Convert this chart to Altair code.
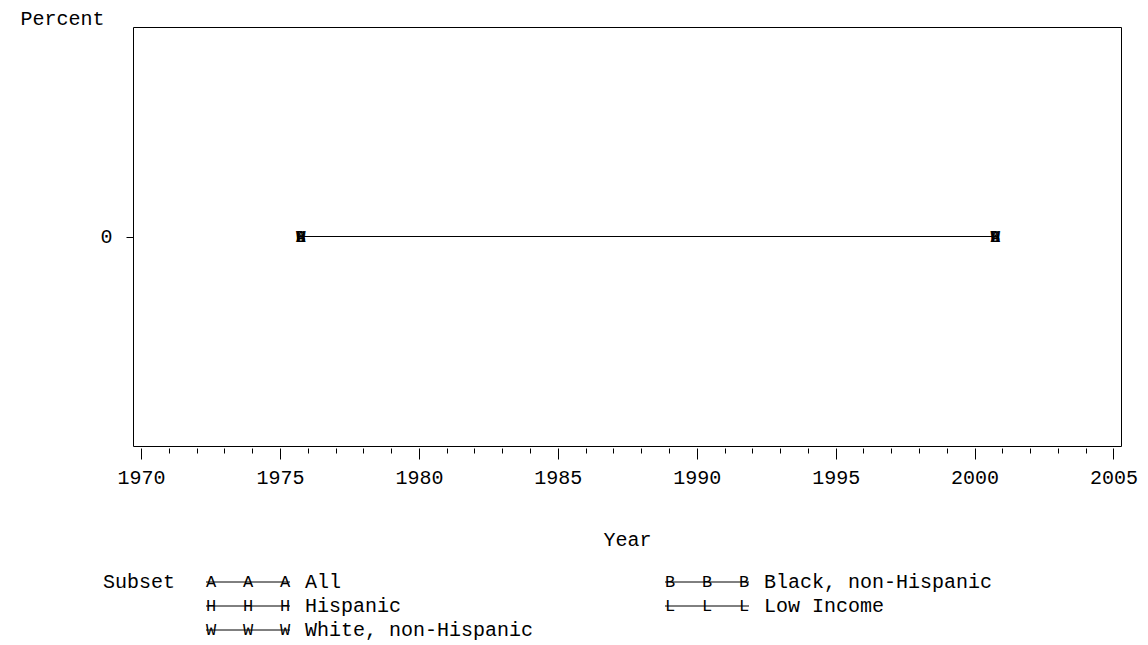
import altair as alt
import pandas as pd

# ---- data ----
series = ["All", "Black, non-Hispanic", "Hispanic", "Low Income", "White, non-Hispanic"]
symbols = ["A", "B", "H", "L", "W"]
years = [1975.75, 2000.75]
values = {
    "All": [0, 0],
    "Black, non-Hispanic": [0, 0],
    "Hispanic": [0, 0],
    "Low Income": [0, 0],
    "White, non-Hispanic": [0, 0],
}
legend_col = [0, 1, 0, 1, 0]
legend_row = [0, 0, 1, 1, 2]
tick_years = list(range(1970, 2006))

rows = []
for s, sym in zip(series, symbols):
    for yr, v in zip(years, values[s]):
        rows.append({"Subset": s, "sym": sym, "Year": yr, "Percent": v})
df = pd.DataFrame(rows)

leg = pd.DataFrame({"Subset": series, "sym": symbols, "col": legend_col, "row": legend_row})
leg_title = pd.DataFrame({"t": ["Subset"], "col": [0], "row": [0]})

FONT = "Liberation Mono"
FS = 20

xscale = alt.Scale(domain=[1969.71, 2005.27], nice=False, zero=False)
yscale = alt.Scale(domain=[-1, 1], nice=False, zero=False)

xaxis = alt.Axis(
    values=tick_years,
    labelExpr="datum.value % 5 === 0 ? '' + datum.value : ''",
    tickSize={"condition": {"test": "datum.value % 5 === 0", "value": 11}, "value": 5},
    offset=2,
    domain=False,
    grid=False,
    tickColor="black",
    labelColor="black",
    labelFont=FONT,
    labelFontSize=FS,
    labelBaseline="middle",
    labelPadding=18,
    labelFlush=False,
    labelOverlap=False,
    title="Year",
    titleFont=FONT,
    titleFontSize=FS,
    titleFontWeight="normal",
    titleColor="black",
    titleBaseline="middle",
    titleY=91,
)
yaxis = alt.Axis(
    values=[0],
    format="d",
    tickSize=7,
    domain=False,
    grid=False,
    tickColor="black",
    labelColor="black",
    labelFont=FONT,
    labelFontSize=FS,
    labelPadding=14,
    title="Percent",
    titleFont=FONT,
    titleFontSize=FS,
    titleFontWeight="normal",
    titleColor="black",
    titleAngle=0,
    titleAlign="center",
    titleBaseline="middle",
    titleX=-71,
    titleY=-9,
)

base = alt.Chart(df)
line = base.mark_line(color="black", strokeWidth=1).encode(
    x=alt.X("Year:Q", scale=xscale, axis=xaxis),
    y=alt.Y("Percent:Q", scale=yscale, axis=yaxis),
    detail="Subset:N",
)
markers = base.mark_text(
    font=FONT, fontSize=16, color="black", baseline="middle", align="center"
).encode(
    x=alt.X("Year:Q", scale=xscale, axis=xaxis),
    y=alt.Y("Percent:Q", scale=yscale, axis=yaxis),
    text="sym:N",
)
main = alt.layer(line, markers)

lx = alt.X("col:Q", scale=alt.Scale(domain=[0, 1], range=[73, 532], nice=False, zero=False), axis=None)
ly = alt.Y("row:Q", scale=alt.Scale(domain=[0, 2], range=[555, 603], nice=False, zero=False), axis=None)

lb = alt.Chart(leg)
strike = lb.mark_rule(color="black", strokeWidth=1, x2Offset=84).encode(x=lx, x2="col:Q", y=ly)
sym_marks = [
    lb.mark_text(font=FONT, fontSize=17, color="black", align="center", baseline="middle", dx=d).encode(
        x=lx, y=ly, text="sym:N"
    )
    for d in (5, 42, 79)
]
labels = lb.mark_text(font=FONT, fontSize=FS, color="black", align="left", baseline="middle", dx=99).encode(
    x=lx, y=ly, text="Subset:N"
)
title = alt.Chart(leg_title).mark_text(
    font=FONT, fontSize=FS, color="black", align="left", baseline="middle", dx=-103
).encode(x=lx, y=ly, text="t:N")
legend = alt.layer(strike, *sym_marks, labels, title)

chart = (
    alt.layer(main, legend)
    .resolve_scale(x="independent", y="independent")
    .properties(
        width=988,
        height=419,
        autosize=alt.AutoSizeParams(type="none"),
        padding={"left": 125, "top": 19, "right": 19, "bottom": 196},
        background="white",
    )
    .configure_view(stroke="black", strokeWidth=1)
)

chart.save("out.html", embed_options={"renderer": "svg", "actions": False})
